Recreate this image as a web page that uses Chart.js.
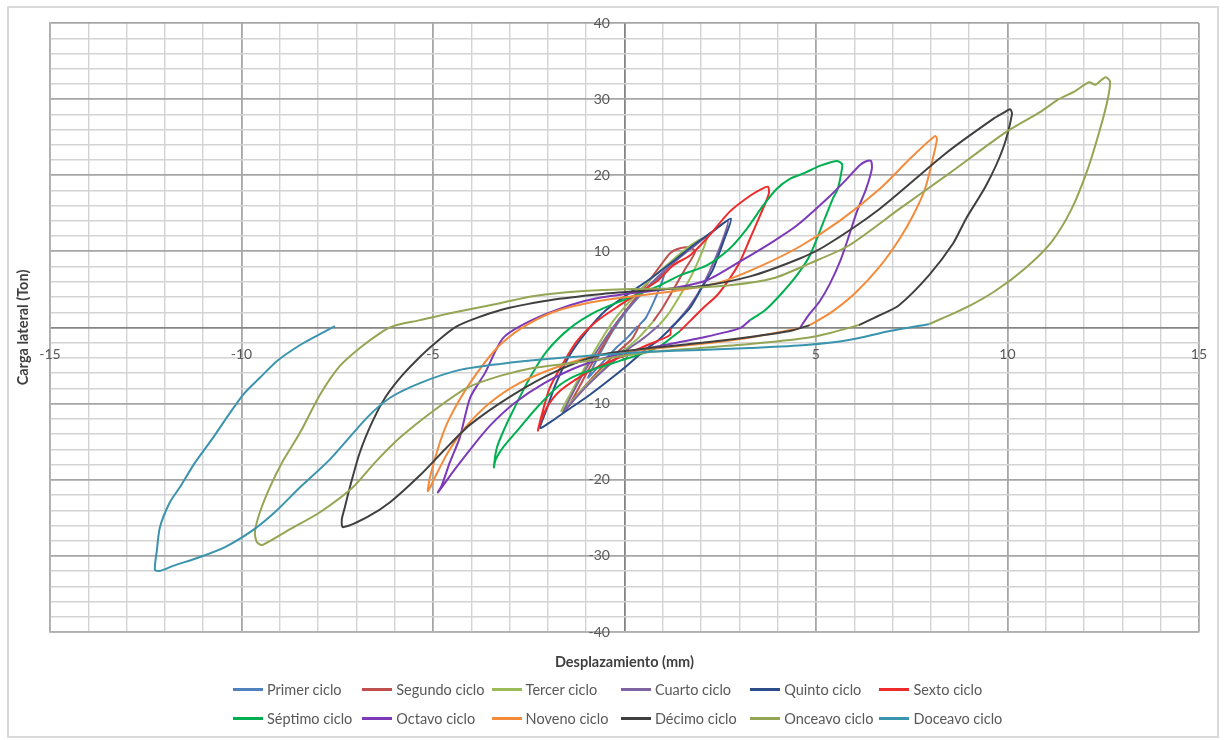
<!DOCTYPE html>
<html>
<head>
<meta charset="utf-8">
<script src="https://cdn.jsdelivr.net/npm/chart.js@4.4.1/dist/chart.umd.min.js"></script>
<style>
  html, body { margin:0; padding:0; background:#fff; }
  #wrap { position:relative; width:1226px; height:740px; overflow:hidden; }
  #c { position:absolute; left:0; top:0; }
  #frame { position:absolute; left:7px; top:6px; width:1212px; height:732px; box-sizing:border-box; border:2px solid #d9d9d9; pointer-events:none; }
  #legend { position:absolute; left:233px; top:679px; display:grid; grid-template-columns:repeat(6,129.3px); grid-auto-rows:20px; row-gap:9px; font-family:Lato, "Open Sans", sans-serif; font-size:14.5px; color:#595959; }
  .item { display:flex; align-items:center; white-space:nowrap; }
  .sw { width:30px; height:3px; margin-right:4px; flex:none; }
</style>
</head>
<body>
<div id="wrap">
  <canvas id="c" width="1226" height="740"></canvas>
  <div id="frame"></div>
  <div id="legend"></div>
</div>
<script>
// ---- labels & ticks ----
const cycleNames = ['Primer ciclo','Segundo ciclo','Tercer ciclo','Cuarto ciclo','Quinto ciclo','Sexto ciclo',
                    'Séptimo ciclo','Octavo ciclo','Noveno ciclo','Décimo ciclo','Onceavo ciclo','Doceavo ciclo'];
const cycleColors = ['#4F81BD','#C0504D','#9BBB59','#8064A2','#2C4D8A','#EE2B2B',
                     '#00B050','#7C3AB8','#F38B3A','#404040','#94A553','#3A94AE'];
const xLabelTicks = [-15,-10,-5,0,5,10,15];
const yLabelTicks = [-40,-30,-20,-10,10,20,30,40];

// ---- series: [displacement (mm), lateral load (Ton)] ----
const primerCiclo = [[0.35,0.2],[0.1,-1.2],[-0.2,-2.6],[-0.5,-4.2],[-0.8,-5.8],[-0.95,-6.6],[-0.8,-5.0],[-0.55,-2.6],[-0.3,-0.4],[0.0,1.8],[0.3,3.6],[0.6,5.2],[0.9,6.6],[1.05,7.3],[0.95,5.6],[0.75,3.2],[0.55,1.2],[0.4,0.4]];
const segundoCiclo = [[0.4,0.4],[0.2,-1.5],[-0.2,-3.3],[-0.6,-5.3],[-1.0,-7.5],[-1.3,-9.3],[-1.45,-10.3],[-1.2,-8.0],[-0.9,-5.2],[-0.55,-2.3],[-0.2,0.6],[0.2,3.3],[0.6,5.8],[0.95,8.2],[1.2,9.8],[1.45,10.4],[1.7,10.5],[1.85,10.0],[1.6,7.8],[1.3,5.2],[1.0,2.6],[0.75,0.8]];
const tercerCiclo = [[0.75,0.8],[0.4,-1.2],[0.0,-3.0],[-0.5,-5.2],[-1.0,-7.6],[-1.4,-9.8],[-1.65,-11.0],[-1.4,-8.6],[-1.05,-5.4],[-0.7,-2.4],[-0.3,0.8],[0.2,3.8],[0.7,6.4],[1.2,8.6],[1.6,10.3],[1.95,11.5],[2.15,11.8],[2.0,9.6],[1.75,6.8],[1.45,4.2],[1.15,1.8],[0.9,0.3]];
const cuartoCiclo = [[0.9,0.3],[0.5,-1.4],[0.0,-3.2],[-0.5,-5.4],[-1.0,-7.8],[-1.4,-10.0],[-1.6,-11.2],[-1.35,-8.6],[-1.0,-5.4],[-0.6,-2.2],[-0.15,1.0],[0.35,4.0],[0.9,6.8],[1.4,9.0],[1.9,11.0],[2.3,12.6],[2.7,14.0],[2.6,12.0],[2.35,8.8],[2.05,5.6],[1.7,2.8],[1.35,0.6]];
const quintoCiclo = [[1.35,0.6],[0.9,-1.6],[0.54,-2.95],[0.0,-5.3],[-0.5,-7.3],[-1.0,-9.2],[-1.5,-10.9],[-1.9,-12.3],[-2.2,-13.2],[-2.05,-11.0],[-1.8,-7.5],[-1.45,-3.8],[-1.0,-0.6],[-0.5,2.2],[0.1,4.4],[0.7,6.5],[1.3,8.8],[1.8,10.8],[2.3,12.6],[2.78,14.3],[2.6,11.5],[2.3,7.5],[2.05,5.5],[1.7,2.5],[1.2,-0.1]];
const sextoCiclo = [[1.2,-0.1],[1.19,-0.99],[0.54,-2.43],[-0.04,-3.74],[-0.64,-5.05],[-1.08,-6.22],[-1.68,-8.31],[-2.0,-10.27],[-2.18,-12.24],[-2.26,-13.54],[-2.13,-10.93],[-1.95,-7.92],[-1.63,-4.92],[-1.24,-1.78],[-0.72,0.84],[-0.12,2.93],[0.40,4.63],[0.85,6.07],[1.27,8.16],[1.71,9.46],[2.15,11.69],[2.75,15.22],[3.28,17.31],[3.59,18.22],[3.75,18.48],[3.77,17.57],[3.54,14.69],[3.28,11.69],[3.02,8.68],[2.75,6.46],[2.42,4.24],[2.05,2.54],[1.71,0.84],[1.45,-0.47]];
const septimoCiclo = [[1.45,-0.47],[0.85,-2.69],[-0.12,-4.39],[-1.16,-6.09],[-1.68,-7.53],[-2.29,-10.54],[-2.73,-13.15],[-3.17,-15.76],[-3.36,-17.33],[-3.41,-18.38],[-3.33,-15.76],[-3.12,-13.15],[-2.91,-10.93],[-2.47,-6.61],[-2.02,-3.08],[-1.42,-0.08],[-0.72,2.14],[-0.04,3.58],[0.93,5.54],[1.45,6.85],[2.15,8.16],[2.75,10.38],[3.20,13.0],[3.62,16.0],[3.98,18.22],[4.32,19.53],[4.71,20.31],[5.10,21.23],[5.54,21.88],[5.68,21.49],[5.68,20.84],[5.57,18.22],[5.44,16.91],[5.18,13.65],[4.84,9.46],[4.50,6.85],[4.06,4.24],[3.67,2.27],[3.28,0.97]];
const octavoCiclo = [[3.28,0.97],[3.02,-0.08],[1.97,-1.39],[0.93,-2.43],[-0.12,-3.48],[-1.16,-5.05],[-2.08,-7.27],[-2.86,-9.88],[-3.51,-12.89],[-4.03,-16.03],[-4.43,-18.64],[-4.87,-21.65],[-4.77,-20.73],[-4.56,-17.72],[-4.30,-14.46],[-4.03,-9.23],[-3.64,-5.96],[-3.17,-1.39],[-2.47,0.84],[-1.42,2.93],[-0.72,3.84],[0.40,4.63],[1.27,5.15],[2.15,6.20],[3.02,8.68],[3.88,11.29],[4.50,13.39],[5.29,16.91],[5.81,19.53],[6.15,21.36],[6.33,21.88],[6.44,21.88],[6.46,20.84],[6.31,18.22],[6.07,15.22],[5.84,11.69],[5.63,8.68],[5.37,5.80],[5.10,3.45],[4.79,1.49],[4.58,-0.08]];
const novenoCiclo = [[4.58,-0.08],[3.80,-0.86],[3.02,-1.52],[1.97,-2.17],[0.67,-2.82],[-0.64,-3.61],[-1.68,-5.05],[-2.73,-7.27],[-3.51,-9.88],[-4.16,-13.15],[-4.61,-16.42],[-4.95,-19.69],[-5.13,-21.52],[-5.08,-19.69],[-4.82,-15.11],[-4.56,-11.84],[-4.03,-7.27],[-3.33,-2.69],[-2.73,-0.21],[-1.87,2.01],[-0.98,3.19],[-0.01,3.97],[1.45,4.89],[2.49,5.93],[3.54,8.03],[4.58,10.64],[5.63,14.04],[6.67,18.22],[7.45,22.14],[8.11,25.15],[8.16,24.76],[8.05,22.14],[7.85,18.22],[7.56,14.95],[7.19,11.69],[6.67,8.03],[6.02,4.50],[5.37,1.88],[4.84,0.31]];
const decimoCiclo = [[4.84,0.31],[4.32,-0.47],[3.28,-1.25],[1.97,-2.04],[0.67,-2.69],[-0.64,-3.61],[-1.76,-5.70],[-2.91,-8.84],[-4.03,-12.76],[-4.69,-16.03],[-5.34,-19.42],[-6.12,-22.96],[-6.72,-24.92],[-7.35,-26.23],[-7.38,-25.2],[-7.30,-23.61],[-7.17,-20.99],[-6.91,-16.42],[-6.57,-12.24],[-6.25,-9.23],[-5.86,-6.61],[-5.42,-4.26],[-5.00,-2.30],[-4.37,0.18],[-3.25,2.27],[-1.95,3.58],[-0.64,4.37],[0.67,4.89],[1.97,5.41],[3.28,6.72],[4.58,9.07],[5.26,10.77],[6.67,15.61],[8.37,22.80],[9.62,27.37],[9.93,28.29],[10.07,28.68],[10.12,28.03],[9.88,23.45],[9.44,18.61],[8.92,14.30],[8.58,11.03],[7.95,6.85],[7.17,2.93],[6.67,1.62],[6.12,0.31]];
const onceavoCiclo = [[6.12,0.31],[5.37,-0.73],[4.74,-1.39],[3.28,-2.17],[1.97,-2.69],[0.67,-3.22],[-0.38,-4.00],[-1.42,-4.7],[-2.39,-5.31],[-3.25,-6.35],[-4.11,-7.92],[-4.95,-10.80],[-5.86,-14.46],[-6.51,-17.72],[-7.09,-20.99],[-7.95,-24.27],[-8.73,-26.49],[-9.46,-28.58],[-9.60,-28.18],[-9.65,-26.88],[-9.52,-24.27],[-9.26,-20.99],[-8.94,-17.72],[-8.47,-13.80],[-7.95,-8.84],[-7.43,-5.05],[-6.91,-2.69],[-6.38,-0.73],[-6.04,0.18],[-5.34,0.97],[-4.56,1.88],[-3.25,3.19],[-2.39,4.10],[-1.16,4.76],[0.01,5.02],[1.45,5.15],[2.75,5.54],[3.88,6.46],[4.84,8.42],[5.86,10.77],[7.19,15.61],[8.50,20.31],[9.96,25.67],[10.85,28.29],[11.34,29.99],[11.76,31.03],[12.13,32.21],[12.3,31.9],[12.45,32.5],[12.57,32.86],[12.68,32.34],[12.62,29.99],[12.42,26.07],[12.10,20.84],[11.68,15.61],[11.16,11.29],[10.46,7.76],[9.67,4.76],[8.89,2.54],[7.95,0.44]];
const doceavoCiclo = [[7.95,0.44],[6.93,-0.47],[5.86,-1.65],[4.74,-2.30],[3.28,-2.69],[1.97,-2.95],[0.67,-3.2],[-0.64,-3.61],[-1.95,-4.1],[-3.25,-4.78],[-4.30,-5.57],[-5.34,-7.3],[-6.12,-9.23],[-6.72,-11.84],[-7.69,-17.33],[-8.47,-20.99],[-9.13,-24.27],[-9.70,-26.61],[-10.43,-28.84],[-11.08,-30.14],[-11.79,-31.32],[-12.13,-31.97],[-12.26,-31.84],[-12.21,-29.3],[-12.13,-26.23],[-11.87,-22.96],[-11.61,-20.99],[-11.21,-17.72],[-10.74,-14.46],[-10.35,-11.58],[-9.96,-8.84],[-9.52,-6.61],[-9.07,-4.39],[-8.47,-2.30],[-8.0,-0.99],[-7.56,0.18]];

const cycles = [primerCiclo, segundoCiclo, tercerCiclo, cuartoCiclo, quintoCiclo, sextoCiclo,
                septimoCiclo, octavoCiclo, novenoCiclo, decimoCiclo, onceavoCiclo, doceavoCiclo];

const tickFont = { family: 'Lato', size: 14 };
const titleFont = { family: 'Lato', size: 14.5, weight: 'bold' };

const datasets = cycleNames.map((name, i) => ({
  label: name,
  data: cycles[i].map(([x, y]) => ({ x, y })),
  borderColor: cycleColors[i],
  backgroundColor: cycleColors[i],
  borderWidth: 2,
  pointRadius: 0,
  pointHoverRadius: 0,
  showLine: true,
  fill: false,
  tension: 0.25,
  order: cycleNames.length - i
}));

function gridColor(step) {
  return (c) => {
    const v = c.tick ? c.tick.value : 0;
    if (Math.abs(v) < 1e-9) return '#858585';
    return (Math.abs(v % step) < 1e-9) ? '#a6a6a6' : '#d3d3d3';
  };
}
function gridWidth(step) {
  return (c) => {
    const v = c.tick ? c.tick.value : 0;
    return (Math.abs(v % step) < 1e-9) ? 1.8 : 1.4;
  };
}

const chart = new Chart(document.getElementById('c'), {
  type: 'scatter',
  data: { datasets },
  options: {
    responsive: false,
    animation: false,
    devicePixelRatio: 1,
    layout: { padding: { left: 8, right: 27, top: 23, bottom: 69.3 } },
    plugins: { legend: { display: false }, tooltip: { enabled: false } },
    scales: {
      x: {
        type: 'linear', min: -15, max: 15, position: 'bottom',
        ticks: { display: false, stepSize: 1, maxTicksLimit: 100 },
        grid: { color: gridColor(5), lineWidth: gridWidth(5), drawTicks: false },
        border: { display: true, color: '#b0b0b0', width: 1.6 },
        title: { display: true, text: 'Desplazamiento (mm)', font: titleFont, color: '#404040', padding: { top: 21.3, bottom: 0 } }
      },
      y: {
        type: 'linear', min: -40, max: 40, position: 'left',
        ticks: { display: false, stepSize: 2, maxTicksLimit: 100 },
        grid: { color: gridColor(10), lineWidth: gridWidth(10), drawTicks: false },
        border: { display: true, color: '#b0b0b0', width: 1.6 },
        title: { display: true, text: 'Carga lateral (Ton)', font: titleFont, color: '#404040', padding: { top: 6.3, bottom: 18.3 } }
      },
      xl: {
        type: 'linear', axis: 'x', min: -15, max: 15, position: { y: 0 },
        grid: { display: false, drawTicks: false }, border: { display: false },
        ticks: { font: tickFont, color: '#595959', padding: 19, autoSkip: false, maxRotation: 0 },
        afterBuildTicks: (s) => { s.ticks = xLabelTicks.map(v => ({ value: v })); }
      },
      yl: {
        type: 'linear', axis: 'y', min: -40, max: 40, position: { x: -0.38 },
        grid: { display: false, drawTicks: false }, border: { display: false },
        ticks: { font: tickFont, color: '#595959', padding: 0, autoSkip: false },
        afterBuildTicks: (s) => { s.ticks = yLabelTicks.map(v => ({ value: v })); }
      }
    }
  }
});

// HTML legend built from the chart's datasets (Excel-like grid of 6 columns)
const legendEl = document.getElementById('legend');
chart.data.datasets.forEach(ds => {
  const item = document.createElement('div');
  item.className = 'item';
  const sw = document.createElement('span');
  sw.className = 'sw';
  sw.style.background = ds.borderColor;
  const tx = document.createElement('span');
  tx.textContent = ds.label;
  item.append(sw, tx);
  legendEl.append(item);
});
</script>
</body>
</html>
